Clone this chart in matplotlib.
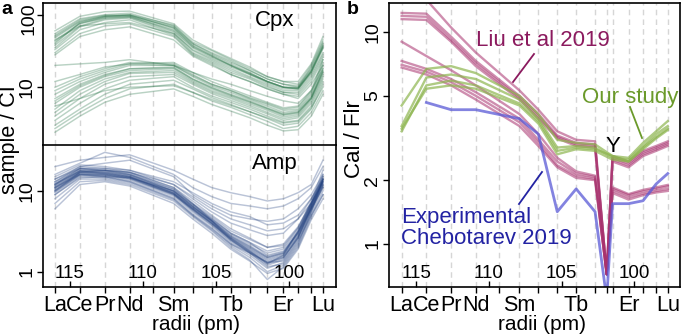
import numpy as np
import matplotlib
matplotlib.use("Agg")
import matplotlib.pyplot as plt
import matplotlib.transforms as mtransforms
from matplotlib.ticker import NullLocator

plt.rcParams['font.family'] = ['Liberation Sans', 'DejaVu Sans']

# ---------------- data ----------------
ree = ["La", "Ce", "Pr", "Nd", "Sm", "Eu", "Gd", "Tb", "Dy", "Ho", "Er", "Tm", "Yb", "Lu"]
ree_radii = [116.0, 114.3, 112.6, 110.9, 107.9, 106.6, 105.3, 104.0, 102.7, 101.5, 100.4, 99.4, 98.5, 97.7]

grid_elems = ["La", "Ce", "Pr", "Nd", "Pm", "Sm", "Eu", "Gd", "Tb", "Dy", "Ho", "Er", "Tm", "Yb", "Lu"]
grid_radii = [116.0, 114.3, 112.6, 110.9, 109.3, 107.9, 106.6, 105.3, 104.0, 102.7, 101.5, 100.4, 99.4, 98.5, 97.7]
labeled = ["La", "Ce", "Pr", "Nd", "Sm", "Tb", "Er", "Lu"]
radius_ticks = [115, 110, 105, 100]

cpx_upper = [
    [60, 95, 110, 112, 75, 45, 33, 25, 19, 14, 12, 11, 20, 45],
    [55, 88, 100, 105, 70, 40, 30, 23, 17, 13, 11, 10.5, 18, 40],
    [48, 80, 95, 98, 65, 38, 28, 21, 16, 12, 10, 10, 17, 38],
    [42, 75, 92, 95, 60, 35, 26, 20, 15, 11.5, 9.5, 9.5, 16, 35],
    [38, 70, 88, 92, 58, 32, 24, 18, 14, 11, 9, 9, 15, 30],
    [35, 68, 85, 90, 55, 30, 23, 17, 13.5, 10.5, 8.5, 8.5, 14, 28],
    [33, 62, 78, 85, 52, 29, 22, 16, 13, 10, 8.5, 8, 13, 26],
    [30, 55, 70, 75, 50, 28, 21, 15, 12, 9.5, 8, 7.5, 12, 24],
    [45, 70, 75, 78, 55, 33, 25, 19, 15, 12, 10, 9.5, 16, 34],
    [52, 85, 98, 100, 72, 42, 32, 24, 18, 14, 12, 12, 21, 50],
    [28, 50, 62, 68, 45, 27, 20, 15, 12, 9.5, 8, 7, 11, 20],
    [40, 78, 94, 100, 66, 37, 27, 20, 15.5, 12, 10, 9.5, 17, 36],
    [20, 21, 22, 24, 20, 16, 13, 11, 9, 7.5, 6.5, 6, 9, 18],
    [50, 82, 96, 97, 68, 40, 29, 22, 17, 13, 11, 10, 19, 42],
    [44, 76, 90, 94, 62, 36, 27, 20, 15.5, 12, 10, 9.8, 16.5, 37],
]
cpx_lower = [
    [10, 14, 18, 22, 21, 15, 11, 9, 7, 5.8, 4.8, 5, 8, 20],
    [8, 12, 16, 20, 20, 14, 10.5, 8.5, 6.8, 5.5, 4.5, 4.8, 7.5, 18],
    [7, 11, 15, 18, 19, 13, 10, 8, 6.5, 5.2, 4.3, 4.6, 7.2, 17],
    [6, 10, 14, 17, 18, 12.5, 9.5, 7.6, 6.2, 5, 4.1, 4.4, 7, 16],
    [5, 9, 13, 16, 17, 12, 9, 7.3, 5.9, 4.8, 3.9, 4.2, 6.8, 15],
    [4.5, 8, 12, 15.5, 16, 11.5, 8.6, 7, 5.6, 4.5, 3.7, 4, 6.4, 14],
    [4, 7, 11, 14, 15, 11, 8.2, 6.6, 5.3, 4.3, 3.5, 3.8, 6, 13],
    [3.5, 6, 9.5, 12.5, 14, 10, 7.6, 6.2, 5, 4, 3.3, 3.5, 5.5, 12],
    [3, 5, 8, 11, 12.5, 9.5, 7.2, 5.8, 4.6, 3.7, 3, 3.2, 5, 11],
    [2.7, 4.5, 7, 9.5, 11, 8.5, 6.5, 5.3, 4.2, 3.4, 2.7, 2.9, 4.5, 9],
    [2.4, 4, 6.2, 8, 9.5, 7.5, 5.8, 4.7, 3.8, 3, 2.5, 2.6, 4, 8],
    [12, 15, 19, 21, 20, 14.5, 11, 9, 7.2, 6, 5, 5.3, 8.5, 22],
    [9, 13, 17, 21, 22, 16, 12, 9.5, 7.6, 6.2, 5.2, 5.5, 9, 24],
    [5.5, 7, 9, 10, 10.5, 8.5, 6.8, 5.6, 4.6, 3.8, 3.2, 3.4, 5.2, 10],
    [6.5, 10.5, 14.5, 18, 18.5, 13, 9.8, 7.8, 6.3, 5.1, 4.2, 4.5, 7.1, 16.5],
]
amp = [
    [20, 24, 26, 28, 18, 14, 11, 9.5, 8.5, 7.5, 8.0, 9.5, 12, 24],
    [16, 22, 30, 26, 16, 11, 8.5, 7, 6.5, 6, 6.5, 8, 11, 20],
    [14, 20, 22, 24, 15, 9, 6.5, 5, 4.5, 4.2, 4.5, 6, 9, 16],
    [13, 19, 19, 18, 12, 8, 5.5, 4, 3.3, 2.8, 3, 4.5, 8, 15],
    [12, 18, 18, 16.5, 10.5, 7, 4.8, 3.2, 2.5, 2, 2.2, 3.6, 7.2, 14],
    [11.5, 17.5, 17, 15.5, 10, 6.5, 4.4, 2.9, 2.2, 1.7, 1.9, 3.2, 6.8, 13.5],
    [11, 17, 16.5, 15, 9.5, 6.2, 4.2, 2.7, 2.0, 1.5, 1.7, 3.0, 6.5, 13],
    [10.5, 16.5, 16, 14.5, 9.2, 6, 4.0, 2.6, 1.9, 1.4, 1.6, 2.8, 6.2, 12.5],
    [10, 16, 15.5, 14, 9, 5.8, 3.9, 2.5, 1.8, 1.3, 1.5, 2.6, 6, 12],
    [9.5, 15.5, 15, 13.5, 8.6, 5.5, 3.7, 2.3, 1.7, 1.2, 1.4, 2.5, 5.7, 11.5],
    [9, 15, 14.5, 13, 8.2, 5.2, 3.5, 2.2, 1.6, 1.1, 1.3, 2.3, 5.4, 11],
    [8, 14, 14, 12.5, 7.8, 5, 3.3, 2.1, 1.5, 1.0, 1.2, 2.1, 5, 10],
    [7, 13, 13.5, 12, 7.5, 4.8, 3.2, 2.0, 1.4, 0.8, 1.15, 2.0, 4.7, 9],
    [6, 12, 13, 11.5, 7, 4.5, 3.0, 1.9, 1.35, 0.95, 1.1, 1.9, 4.4, 8],
    [13, 20, 19, 17, 11, 7.5, 5, 3.4, 2.6, 2.0, 2.1, 3.5, 7, 16],
    [12, 19, 18, 16, 10, 6.8, 4.6, 3.0, 2.3, 1.8, 2.0, 3.4, 7.5, 18],
    [15, 21, 20, 18, 13, 9.5, 7, 5.5, 4.8, 3.8, 4, 5, 8, 14],
    [10, 17, 18, 17, 11, 7, 4.3, 2.6, 1.8, 1.25, 1.6, 3.2, 7, 15],
    [11, 16, 15, 13, 8, 5, 3.4, 2.2, 1.7, 1.3, 1.35, 2.4, 5, 9],
    [12.5, 18.5, 17.5, 16, 10.5, 6.8, 4.5, 3.0, 2.3, 1.6, 1.8, 3.0, 6, 11],
    [14, 19, 18, 17, 12, 8.5, 6, 4.5, 3.8, 3.2, 3.4, 4.5, 7, 13],
    [9, 14.5, 15, 14.5, 10, 6.5, 4.2, 2.5, 1.7, 1.15, 1.25, 2.2, 5.5, 14],
    [11.2, 17.2, 16.8, 15.2, 9.6, 6.3, 4.3, 2.8, 2.1, 1.55, 1.75, 3.1, 6.6, 13.2],
    [10.8, 16.8, 16.2, 14.8, 9.3, 6.1, 4.1, 2.65, 1.95, 1.45, 1.65, 2.9, 6.3, 12.8],
    [11.8, 17.8, 17.2, 15.8, 9.9, 6.4, 4.3, 2.75, 2.05, 1.5, 1.7, 3.1, 6.9, 14],
    [10.2, 16.2, 15.8, 14.2, 8.9, 5.9, 3.95, 2.55, 1.85, 1.35, 1.55, 2.7, 6.1, 12.2],
    [12.2, 17.6, 16.4, 15.0, 9.4, 6.0, 4.0, 2.45, 1.75, 1.25, 1.45, 2.7, 6.4, 13.8],
    [9.8, 15.8, 15.6, 14.6, 9.1, 5.7, 3.8, 2.4, 1.75, 1.3, 1.5, 2.6, 5.8, 11.8],
]

b_elems = ["La", "Ce", "Pr", "Nd", "Sm", "Eu", "Gd", "Tb", "Dy", "Y", "Ho", "Er", "Tm", "Yb", "Lu"]
b_radii = [116.0, 114.3, 112.6, 110.9, 107.9, 106.6, 105.3, 104.0, 102.7, 101.9, 101.5, 100.4, 99.4, 98.5, 97.7]
b_grid_radii = [116.0, 114.3, 112.6, 110.9, 109.3, 107.9, 106.6, 105.3, 104.0, 102.7, 101.9, 101.5, 100.4, 99.4, 98.5, 97.7]
b_grid_elems = ["La", "Ce", "Pr", "Nd", "Pm", "Sm", "Eu", "Gd", "Tb", "Dy", "Y", "Ho", "Er", "Tm", "Yb", "Lu"]

liu = [
    [18, 14.2, 10.5, 8.0, 5.3, 4.3, 3.4, 3.1, 3.05, 0.72, 2.6, 2.45, 2.75, 2.9, 3.05],
    [12.3, 12.2, 9.5, 7.3, 5.0, 4.1, 3.25, 3.0, 2.95, 0.72, 2.55, 2.4, 2.7, 2.85, 3.0],
    [11.9, 11.8, 9.2, 7.1, 4.9, 4.0, 3.2, 2.95, 2.9, 0.72, 2.5, 2.35, 2.65, 2.8, 2.95],
    [11.5, 11.4, 9.0, 6.9, 4.8, 3.9, 3.15, 2.9, 2.85, 0.72, 2.45, 2.3, 2.6, 2.75, 2.9],
    [9.0, 7.7, 6.6, 5.6, 4.1, 3.3, 2.55, 2.2, 2.1, 0.72, 1.85, 1.72, 1.8, 1.85, 1.9],
    [7.3, 6.7, 6.0, 5.2, 3.9, 3.1, 2.45, 2.15, 2.07, 0.72, 1.82, 1.7, 1.77, 1.82, 1.87],
    [7.0, 6.5, 5.8, 5.0, 3.75, 3.0, 2.35, 2.1, 2.03, 0.72, 1.78, 1.66, 1.73, 1.78, 1.82],
    [6.8, 6.3, 5.6, 4.8, 3.6, 2.9, 2.3, 2.05, 2.0, 0.72, 1.74, 1.62, 1.7, 1.75, 1.78],
]
our_study = [
    [4.5, 6.7, 6.9, 6.4, 5.0, 4.1, 3.1, 3.0, 2.95, np.nan, 2.6, 2.55, 3.0, 3.4, 3.8],
    [3.6, 6.1, 6.3, 6.0, 4.8, 3.9, 2.85, 2.9, 2.85, np.nan, 2.55, 2.5, 2.9, 3.3, 3.6],
    [3.4, 5.6, 5.9, 5.6, 4.6, 3.8, 2.75, 2.85, 2.8, np.nan, 2.6, 2.45, 2.85, 3.2, 3.5],
    [3.5, 5.4, 5.6, 5.4, 4.5, 3.7, 2.65, 2.8, 2.75, np.nan, 2.5, 2.45, 2.8, 3.15, 3.45],
]
chebotarev = [np.nan, 4.65, 4.3, 4.3, 3.9, 3.3, 1.42, 1.82, 1.42, 0.55, 1.55, 1.55, 1.6, 1.92, 2.15]

# ---------------- figure ----------------
W, H = 685, 334
fig = plt.figure(figsize=(W / 100, H / 100), dpi=100)

def fx(px):
    return px / W

def fy(py):
    return 1 - py / H

axC = fig.add_axes([fx(43), fy(145), fx(336) - fx(43), fy(3) - fy(145)])
axA = fig.add_axes([fx(43), fy(287), fx(336) - fx(43), fy(145) - fy(287)])
axB = fig.add_axes([fx(389), fy(287), fx(680) - fx(389), fy(3) - fy(287)])

spine_lw = 1.2
grid_col = '#d6d6d6'

def style_axis(ax, xlim, gr, ge, show_x=True):
    ax.set_xlim(*xlim)
    ax.set_yscale('log')
    ax.yaxis.set_minor_locator(NullLocator())
    for s in ax.spines.values():
        s.set_linewidth(spine_lw)
    for r in gr:
        ax.axvline(r, color=grid_col, lw=1.0, ls=(0, (4, 3)), zorder=0)
    ax.set_xticks(gr)
    ax.set_xticklabels([e if e in labeled else '' for e in ge])
    ax.xaxis.set_minor_locator(NullLocator())
    ax.tick_params(axis='x', direction='out', length=4.5, width=1.0, labelsize=15.5, pad=1)
    ax.tick_params(axis='y', direction='out', length=4, width=1.0, labelsize=14, pad=1.5,
                   labelrotation=90)
    for lab in ax.get_yticklabels():
        lab.set_va('center')
    if show_x:
        sec = ax.secondary_xaxis('bottom')
        sec.set_xticks(radius_ticks)
        sec.set_xticklabels([''] * len(radius_ticks))
        sec.tick_params(axis='x', direction='in', length=4, width=1.0)
        sec.spines['bottom'].set_visible(False)
        trans = mtransforms.blended_transform_factory(ax.transData, ax.transAxes)
        off = mtransforms.ScaledTranslation(0, 14 / 100, fig.dpi_scale_trans)
        for r in radius_ticks:
            ax.text(r, 0, str(r), transform=trans + off, ha='center', va='center',
                    fontsize=13.5, zorder=5)
    else:
        ax.tick_params(axis='x', bottom=False, labelbottom=False)

xlim_a = (116.82, 96.81)
xlim_b = (116.87, 96.86)

# Cpx
for row in cpx_upper + cpx_lower:
    axC.plot(ree_radii, row, color='#1a6b3c', alpha=0.3, lw=1.05)
style_axis(axC, xlim_a, grid_radii, grid_elems, show_x=False)
axC.set_ylim(1.6, 145)
axC.set_yticks([10, 100])
axC.set_yticklabels(['10', ''])
axC.spines['bottom'].set_visible(False)
fig.text(fx(29), fy(19), '100', rotation=90, ha='center', va='center', fontsize=14)
axC.text(0.79, 0.88, 'Cpx', transform=axC.transAxes, ha='center', va='center', fontsize=16)

# Amp
for row in amp:
    axA.plot(ree_radii, row, color='#1b3b7b', alpha=0.3, lw=1.05)
style_axis(axA, xlim_a, grid_radii, grid_elems, show_x=True)
axA.set_ylim(0.646, 37)
axA.set_yticks([1, 10])
axA.set_yticklabels(['1', '10'])
axA.text(0.79, 0.87, 'Amp', transform=axA.transAxes, ha='center', va='center', fontsize=16)

# panel b
def plot_masked(ax, vals, **kw):
    v = np.array(vals, dtype=float)
    x = np.array(b_radii)
    m = ~np.isnan(v)
    ax.plot(x[m], v[m], **kw)

for row in liu:
    plot_masked(axB, row, color='#a8326e', alpha=0.55, lw=1.7)
for row in our_study:
    plot_masked(axB, row, color='#8db54f', alpha=0.7, lw=1.7)
plot_masked(axB, chebotarev, color='#5a5ad6', alpha=0.75, lw=2.0)
style_axis(axB, xlim_b, b_grid_radii, b_grid_elems, show_x=True)
axB.set_ylim(0.627, 13.7)
axB.set_yticks([1, 2, 5, 10])
axB.set_yticklabels(['1', '2', '5', '10'])

def px_to_data(ax, px, py):
    disp = (px * fig.dpi / 100, (H - py) * fig.dpi / 100)
    return ax.transData.inverted().transform(disp)

liu_col = '#8b1a5e'
green_col = '#6b9a2b'
blue_col = '#2323a3'

tx, ty = px_to_data(axB, 476, 41)
axB.text(tx, ty, 'Liu et al 2019', color=liu_col, fontsize=16, ha='left', va='center')
p1 = px_to_data(axB, 513, 82)
p2 = px_to_data(axB, 534, 54)
axB.plot([p1[0], p2[0]], [p1[1], p2[1]], color=liu_col, lw=1.3)

tx, ty = px_to_data(axB, 582, 97)
axB.text(tx, ty, 'Our study', color=green_col, fontsize=16, ha='left', va='center')
p1 = px_to_data(axB, 630, 107)
p2 = px_to_data(axB, 642, 138)
axB.plot([p1[0], p2[0]], [p1[1], p2[1]], color=green_col, lw=1.3)

tx, ty = px_to_data(axB, 401, 217)
axB.text(tx, ty, 'Experimental', color=blue_col, fontsize=16, ha='left', va='center')
tx, ty = px_to_data(axB, 401, 238)
axB.text(tx, ty, 'Chebotarev 2019', color=blue_col, fontsize=16, ha='left', va='center')
p1 = px_to_data(axB, 519, 204)
p2 = px_to_data(axB, 542, 172)
axB.plot([p1[0], p2[0]], [p1[1], p2[1]], color=blue_col, lw=1.3)

tx, ty = px_to_data(axB, 613, 146)
axB.text(tx, ty, 'Y', color='black', fontsize=16, ha='center', va='center')

# axis titles
fig.text(fx(10), fy(140), 'sample / CI', rotation=90, ha='center', va='center', fontsize=15.5)
fig.text(fx(355), fy(139), 'Cal / Flr', rotation=90, ha='center', va='center', fontsize=16)
fig.text(fx(196), fy(324), 'radii (pm)', ha='center', va='center', fontsize=15)
fig.text(fx(542), fy(324), 'radii (pm)', ha='center', va='center', fontsize=15)

fig.text(fx(7), fy(10), 'a', ha='center', va='center', fontsize=14, fontweight='bold')
fig.text(fx(353), fy(10), 'b', ha='center', va='center', fontsize=14, fontweight='bold')

fig.savefig('out.png', dpi=100)
